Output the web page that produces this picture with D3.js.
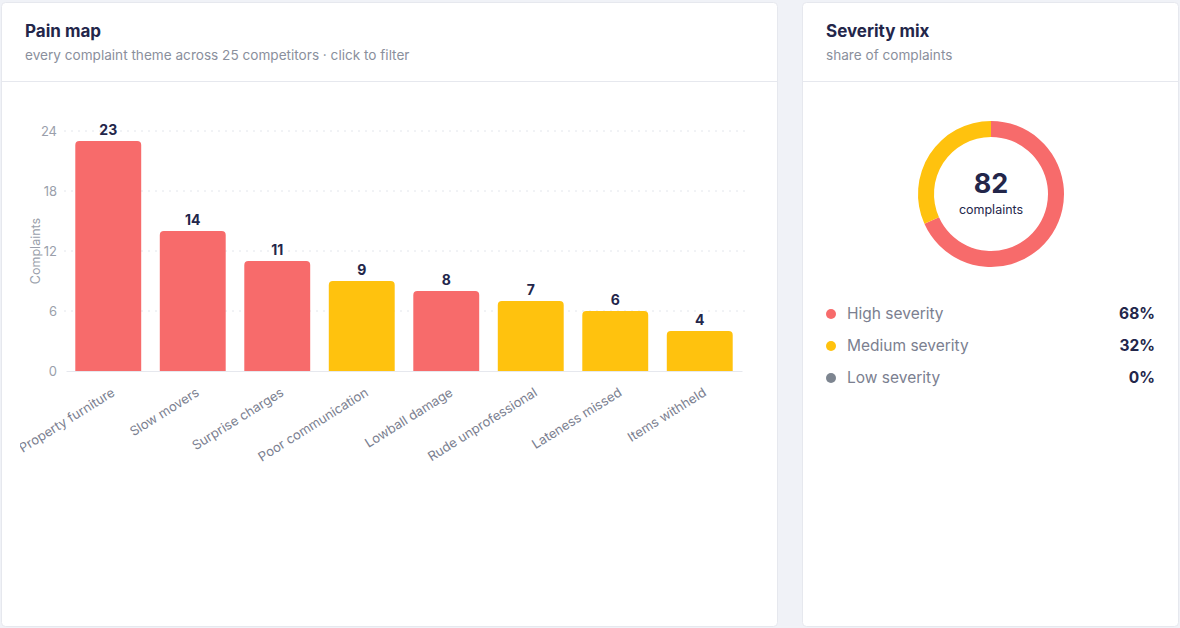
<!DOCTYPE html>
<html>
<head>
<meta charset="utf-8">
<script src="https://cdn.jsdelivr.net/npm/d3@7"></script>
<style>
  html, body { margin: 0; padding: 0; background: #f0f2f7; }
  body { width: 1180px; height: 628px; overflow: hidden; font-family: Inter, "Noto Sans", sans-serif; }
  svg text { font-family: Inter, "Noto Sans", sans-serif; }
</style>
</head>
<body>
<svg id="chart" width="1180" height="628"></svg>
<script>
// chart data
var themes = ["Property furniture", "Slow movers", "Surprise charges", "Poor communication",
              "Lowball damage", "Rude unprofessional", "Lateness missed", "Items withheld"];
var counts = [23, 14, 11, 9, 8, 7, 6, 4];
var severity = ["High", "High", "High", "Medium", "High", "Medium", "Medium", "Medium"];
var yTicks = [0, 6, 12, 18, 24];

var sevNames = ["High", "Medium", "Low"];
var sevLabels = ["High severity", "Medium severity", "Low severity"];
var sevColors = { High: "#f76b6b", Medium: "#ffc20e", Low: "#7d8590" };

var ink = "#23264a";
var grey = "#8a8f9c";
var line = "#e6e8ee";

var svg = d3.select("#chart");

// cards
function card(x, y, w, h, title, sub) {
  svg.append("rect")
     .attr("x", x + 0.5).attr("y", y + 0.5)
     .attr("width", w).attr("height", h)
     .attr("rx", 4)
     .attr("fill", "#fff")
     .attr("stroke", line);
  svg.append("line")
     .attr("x1", x + 1).attr("x2", x + w)
     .attr("y1", y + 79.5).attr("y2", y + 79.5)
     .attr("stroke", line);
  svg.append("text")
     .attr("x", x + 24).attr("y", y + 35)
     .attr("fill", ink)
     .style("font-size", "17px")
     .style("font-weight", 700)
     .text(title);
  svg.append("text")
     .attr("x", x + 24).attr("y", y + 58)
     .attr("fill", grey)
     .style("font-size", "13.6px")
     .text(sub);
}
card(1, 2, 776, 624, "Pain map", "every complaint theme across 25 competitors \u00b7 click to filter");
card(802, 2, 376, 624, "Severity mix", "share of complaints");

// ---------- bar chart ----------
svg.append("clipPath").attr("id", "leftclip")
   .append("rect").attr("x", 20).attr("y", 82).attr("width", 756).attr("height", 540);

var g = svg.append("g").attr("clip-path", "url(#leftclip)");

var x = d3.scaleBand()
          .domain(themes)
          .range([66, 742])
          .paddingInner(0.22)
          .paddingOuter(0.11);
var y = d3.scaleLinear()
          .domain([0, 24])
          .range([371, 131]);

// grid
g.selectAll(".grid")
 .data(yTicks.filter(function(d) { return d > 0; }))
 .enter()
 .append("line")
 .attr("x1", 64).attr("x2", 745)
 .attr("y1", function(d) { return y(d); })
 .attr("y2", function(d) { return y(d); })
 .attr("stroke", "#e3e6ec")
 .attr("stroke-dasharray", "2,5");

// y axis
var yAxis = d3.axisLeft(y).tickValues(yTicks).tickSize(0).tickPadding(9);
var ya = g.append("g").attr("transform", "translate(66,0)").call(yAxis);
ya.select(".domain").remove();
ya.selectAll("text").attr("fill", "#9a9fab").style("font-size", "13px");

g.append("text")
 .attr("transform", "translate(40," + y(12) + ") rotate(-90)")
 .attr("text-anchor", "middle")
 .attr("fill", "#9a9fab")
 .style("font-size", "12.5px")
 .text("Complaints");

// bars with rounded tops
function barPath(d, i) {
  var x0 = x(themes[i]), w = x.bandwidth(), y0 = y(d), y1 = y(0), r = 4;
  return "M" + x0 + "," + y1 +
         "V" + (y0 + r) +
         "Q" + x0 + "," + y0 + " " + (x0 + r) + "," + y0 +
         "H" + (x0 + w - r) +
         "Q" + (x0 + w) + "," + y0 + " " + (x0 + w) + "," + (y0 + r) +
         "V" + y1 + "Z";
}
g.selectAll(".bar")
 .data(counts)
 .enter()
 .append("path")
 .attr("class", "bar")
 .attr("d", barPath)
 .attr("fill", function(d, i) { return sevColors[severity[i]]; });

g.selectAll(".val")
 .data(counts)
 .enter()
 .append("text")
 .attr("x", function(d, i) { return x(themes[i]) + x.bandwidth() / 2; })
 .attr("y", function(d) { return y(d) - 6; })
 .attr("text-anchor", "middle")
 .attr("fill", ink)
 .style("font-size", "14px")
 .style("font-weight", 700)
 .text(function(d) { return d; });

// x axis
var xAxis = d3.axisBottom(x).tickSize(0).tickPadding(0);
var xa = g.append("g").attr("transform", "translate(0,371)").call(xAxis);
xa.select(".domain").attr("stroke", line);
xa.selectAll("text")
  .attr("fill", "#7b8090")
  .style("font-size", "13px")
  .style("text-anchor", "end")
  .attr("y", 0)
  .attr("dy", "0.35em")
  .attr("transform", "translate(5,20) rotate(-32)");

// ---------- donut ----------
var sevTotals = sevNames.map(function(s) {
  return d3.sum(counts.filter(function(d, i) { return severity[i] === s; }));
});
var total = d3.sum(sevTotals);

var pie = d3.pie().sort(null).value(function(d) { return d; });
var arc = d3.arc().innerRadius(57).outerRadius(73);

var dg = svg.append("g").attr("transform", "translate(991,194)");
dg.selectAll("path")
  .data(pie(sevTotals))
  .enter()
  .append("path")
  .attr("d", arc)
  .attr("fill", function(d, i) { return sevColors[sevNames[i]]; });

dg.append("text")
  .attr("y", -1)
  .attr("text-anchor", "middle")
  .attr("fill", ink)
  .style("font-size", "27px")
  .style("font-weight", 700)
  .text(total);
dg.append("text")
  .attr("y", 20)
  .attr("text-anchor", "middle")
  .attr("fill", ink)
  .style("font-size", "12.5px")
  .text("complaints");

// legend
var lg = svg.selectAll(".leg")
  .data(sevNames)
  .enter()
  .append("g")
  .attr("transform", function(d, i) { return "translate(0," + (314 + i * 32) + ")"; });
lg.append("circle")
  .attr("cx", 831).attr("cy", 0).attr("r", 5)
  .attr("fill", function(d) { return sevColors[d]; });
lg.append("text")
  .attr("x", 847).attr("dy", "0.35em")
  .attr("fill", "#7b8090")
  .style("font-size", "15.5px")
  .text(function(d, i) { return sevLabels[i]; });
lg.append("text")
  .attr("x", 1155).attr("dy", "0.35em")
  .attr("text-anchor", "end")
  .attr("fill", ink)
  .style("font-size", "15.5px")
  .style("font-weight", 700)
  .text(function(d, i) { return Math.round(sevTotals[i] / total * 100) + "%"; });
</script>
</body>
</html>
